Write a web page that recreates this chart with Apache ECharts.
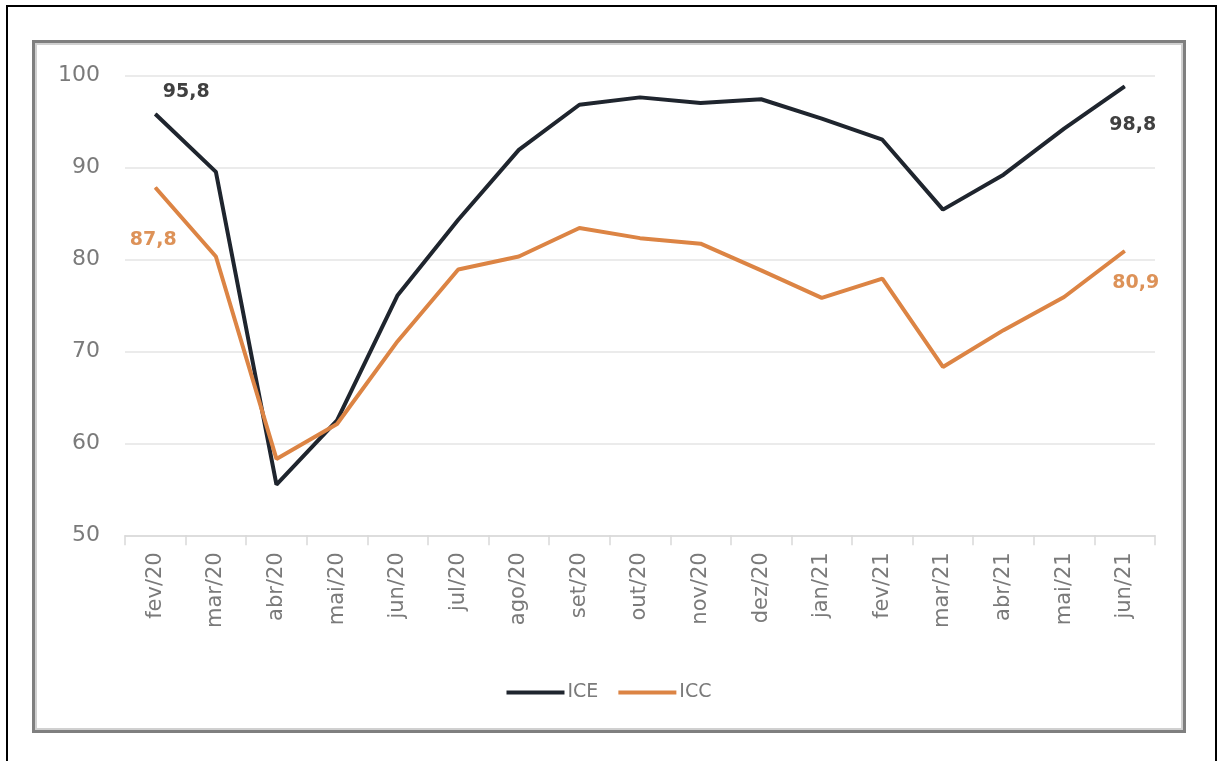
<!DOCTYPE html>
<html>
<head>
<meta charset="utf-8">
<script src="https://cdn.jsdelivr.net/npm/echarts@6/dist/echarts.min.js"></script>
<style>
html,body{margin:0;padding:0;background:#fff;}
#c{width:1218px;height:761px;}
</style>
</head>
<body>
<div id="c"></div>
<script>
const categories = ['fev/20','mar/20','abr/20','mai/20','jun/20','jul/20','ago/20','set/20','out/20','nov/20','dez/20','jan/21','fev/21','mar/21','abr/21','mai/21','jun/21'];
const iceValues = [95.8, 89.5, 55.5, 62.5, 76.1, 84.3, 91.9, 96.8, 97.6, 97.0, 97.4, 95.3, 93.0, 85.4, 89.2, 94.2, 98.8];
const iccValues = [87.8, 80.3, 58.3, 62.1, 71.1, 78.9, 80.3, 83.4, 82.3, 81.7, 78.8, 75.8, 77.9, 68.3, 72.3, 75.9, 80.9];
const yTicks = { min: 50, max: 100, interval: 10 };
const seriesNames = ['ICE', 'ICC'];

const ICE_COLOR = '#1f252e';
const ICC_COLOR = '#dc8444';

function fmt(v) { return String(v.toFixed(1)).replace('.', ','); }

function buildData(values, labelCfg) {
  return values.map((v, i) => {
    const cfg = labelCfg[i];
    if (!cfg) return { value: v };
    return {
      value: v,
      label: Object.assign({
        show: true,
        position: 'inside',
        formatter: (p) => fmt(p.value),
        fontFamily: 'DejaVu Sans',
        fontSize: 19,
        fontWeight: 'bold'
      }, cfg)
    };
  });
}

const last = categories.length - 1;
const iceLabels = {};
iceLabels[0] = { offset: [31, -22], color: '#404040' };
iceLabels[last] = { offset: [8, 39], color: '#404040' };
const iccLabels = {};
iccLabels[0] = { offset: [-2, 53], color: '#dd9258' };
iccLabels[last] = { offset: [11, 32], color: '#dd9258' };

const chart = echarts.init(document.getElementById('c'), null, { renderer: 'canvas' });

chart.setOption({
  backgroundColor: '#ffffff',
  animation: false,
  textStyle: { fontFamily: 'DejaVu Sans' },
  graphic: [
    { type: 'rect', shape: { x: 7, y: 6, width: 1209, height: 800 }, style: { fill: 'none', stroke: '#000000', lineWidth: 2 }, silent: true, z: -10 },
    { type: 'rect', shape: { x: 33.5, y: 41.5, width: 1151, height: 690 }, style: { fill: 'none', stroke: '#7f7f7f', lineWidth: 3 }, silent: true, z: -10 },
    { type: 'rect', shape: { x: 36, y: 44, width: 1146, height: 685 }, style: { fill: 'none', stroke: '#d0d0d0', lineWidth: 2 }, silent: true, z: -10 }
  ],
  grid: { left: 125, right: 63, top: 75.3, bottom: 225.7, containLabel: false },
  legend: {
    data: seriesNames,
    left: 'center',
    top: 678,
    icon: 'rect',
    itemWidth: 58,
    itemHeight: 4,
    itemGap: 20,
    textStyle: { color: '#7a7a7a', fontSize: 19, fontFamily: 'DejaVu Sans', padding: [0, 0, 0, -2] }
  },
  xAxis: {
    type: 'category',
    data: categories,
    boundaryGap: true,
    axisLine: { lineStyle: { color: '#d9d9d9', width: 1.5 } },
    axisTick: { show: true, length: 10, lineStyle: { color: '#d9d9d9', width: 1.5 } },
    axisLabel: { rotate: 90, margin: 17, color: '#7a7a7a', fontSize: 21, fontFamily: 'DejaVu Sans', interval: 0 },
    splitLine: { show: false }
  },
  yAxis: {
    type: 'value',
    min: yTicks.min,
    max: yTicks.max,
    interval: yTicks.interval,
    axisLine: { show: false },
    axisTick: { show: false },
    axisLabel: { margin: 25, color: '#7a7a7a', fontSize: 22, fontFamily: 'DejaVu Sans' },
    splitLine: { lineStyle: { color: '#e4e4e4', width: 1.5 } }
  },
  series: [
    {
      name: seriesNames[0],
      type: 'line',
      data: buildData(iceValues, iceLabels),
      symbol: 'circle',
      symbolSize: 1,
      showSymbol: true,
      itemStyle: { color: ICE_COLOR },
      lineStyle: { color: ICE_COLOR, width: 4 },
      z: 2
    },
    {
      name: seriesNames[1],
      type: 'line',
      data: buildData(iccValues, iccLabels),
      symbol: 'circle',
      symbolSize: 1,
      showSymbol: true,
      itemStyle: { color: ICC_COLOR },
      lineStyle: { color: ICC_COLOR, width: 4 },
      z: 3
    }
  ]
});
</script>
</body>
</html>
